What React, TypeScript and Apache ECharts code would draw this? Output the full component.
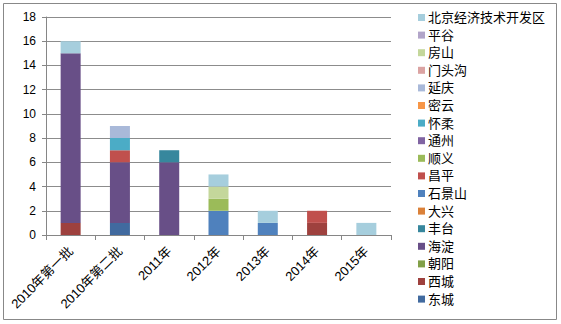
import React, { useEffect, useRef } from "react";
import * as echarts from "echarts";

const categories = ["2010年第一批", "2010年第二批", "2011年", "2012年", "2013年", "2014年", "2015年"];
const yTicks = [0, 2, 4, 6, 8, 10, 12, 14, 16, 18];

// stack order, bottom to top
const seriesNames = ["东城", "西城", "朝阳", "海淀", "丰台", "大兴", "石景山", "昌平", "顺义", "通州", "怀柔", "密云", "延庆", "门头沟", "房山", "平谷", "北京经济技术开发区"];
const dongcheng = [0, 1, 0, 0, 0, 0, 0];
const xicheng = [1, 0, 0, 0, 0, 1, 0];
const chaoyang = [0, 0, 0, 0, 0, 0, 0];
const haidian = [14, 5, 6, 0, 0, 0, 0];
const fengtai = [0, 0, 1, 0, 0, 0, 0];
const daxing = [0, 0, 0, 0, 0, 0, 0];
const shijingshan = [0, 0, 0, 2, 1, 0, 0];
const changping = [0, 1, 0, 0, 0, 1, 0];
const shunyi = [0, 0, 0, 1, 0, 0, 0];
const tongzhou = [0, 0, 0, 0, 0, 0, 0];
const huairou = [0, 1, 0, 0, 0, 0, 0];
const miyun = [0, 0, 0, 0, 0, 0, 0];
const yanqing = [0, 1, 0, 0, 0, 0, 0];
const mentougou = [0, 0, 0, 0, 0, 0, 0];
const fangshan = [0, 0, 0, 1, 0, 0, 0];
const pinggu = [0, 0, 0, 0, 0, 0, 0];
const kaifaqu = [1, 0, 0, 1, 1, 0, 1];

const seriesValues = [dongcheng, xicheng, chaoyang, haidian, fengtai, daxing, shijingshan, changping, shunyi, tongzhou, huairou, miyun, yanqing, mentougou, fangshan, pinggu, kaifaqu];
const seriesColors = ["#416A9F", "#9E413E", "#82A048", "#684F87", "#37879D", "#DB8139", "#4F81BD", "#C0504D", "#9BBB59", "#8064A2", "#4BACC6", "#F79646", "#A9B9D9", "#DBA3A2", "#C4D79B", "#B2A5C9", "#A6CEDD"];

const FONT = "'Liberation Sans', 'Noto Sans CJK SC', sans-serif";

export default function App() {
  const ref = useRef<HTMLDivElement>(null);
  useEffect(() => {
    if (!ref.current) return;
    const chart = echarts.init(ref.current, undefined, { renderer: "svg" });
    chart.setOption({
      animation: false,
      backgroundColor: "#ffffff",
      textStyle: { fontFamily: FONT },
      graphic: [
        {
          type: "rect",
          shape: { x: 3.5, y: 3.5, width: 553, height: 316 },
          style: { fill: "none", stroke: "#888888", lineWidth: 1 },
          silent: true,
        },
      ],
      grid: { left: 46, right: 170, top: 17, bottom: 89 },
      legend: {
        orient: "vertical",
        left: 413,
        top: 6,
        itemWidth: 7,
        itemHeight: 7,
        itemGap: 4.6,
        icon: "rect",
        data: [...seriesNames].reverse(),
        textStyle: { fontSize: 13, color: "#000", fontFamily: FONT, lineHeight: 13, padding: [0, 0, 0, -2] },
      },
      xAxis: {
        type: "category",
        data: categories,
        boundaryGap: true,
        axisLine: { lineStyle: { color: "#868686" } },
        axisTick: { show: true, length: 5, alignWithLabel: false, lineStyle: { color: "#868686" } },
        axisLabel: { rotate: 45, fontSize: 13, color: "#000", margin: 14, interval: 0, fontFamily: FONT },
      },
      yAxis: {
        type: "value",
        min: yTicks[0],
        max: yTicks[yTicks.length - 1],
        interval: 2,
        axisLine: { show: true, lineStyle: { color: "#868686" } },
        axisTick: { show: true, length: 4, lineStyle: { color: "#868686" } },
        axisLabel: { fontSize: 12, color: "#000", margin: 10, fontFamily: FONT },
        splitLine: { lineStyle: { color: "#8C8C8C", width: 1 } },
      },
      series: seriesNames.map((name, i) => ({
        name,
        type: "bar",
        stack: "total",
        barWidth: 20,
        data: seriesValues[i],
        itemStyle: { color: seriesColors[i] },
      })),
    });
    return () => chart.dispose();
  }, []);
  return <div ref={ref} style={{ position: "fixed", left: 0, top: 0, width: 561, height: 324 }} />;
}
